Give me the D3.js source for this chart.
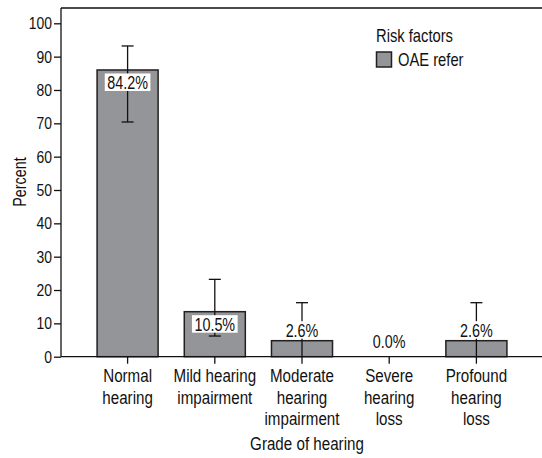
<!DOCTYPE html>
<html>
<head>
<meta charset="utf-8">
<script src="https://cdn.jsdelivr.net/npm/d3@7"></script>
<style>
  body { margin: 0; background: #fff; }
  svg { display: block; font-family: "Liberation Sans", Arial, sans-serif; }
  .axis text { font-size: 17px; fill: #111; }
  .axis path, .axis line { stroke: #111; stroke-width: 1.3; }
</style>
</head>
<body>
<svg id="chart"></svg>
<script>
const width = 542, height = 458;

// data
const categories = ['Normal hearing', 'Mild hearing impairment', 'Moderate hearing impairment', 'Severe hearing loss', 'Profound hearing loss'];
const tickLines = [['Normal', 'hearing'], ['Mild hearing', 'impairment'], ['Moderate', 'hearing', 'impairment'], ['Severe', 'hearing', 'loss'], ['Profound', 'hearing', 'loss']];
const barValues = [86, 13.5, 4.8, 0, 4.8];
const errHigh = [93.2, 23.2, 16.2, null, 16.2];
const errLow = [70.4, 6.2, 0, null, 0];
const valueLabels = ['84.2%', '10.5%', '2.6%', '0.0%', '2.6%'];
const yTicks = [0, 10, 20, 30, 40, 50, 60, 70, 80, 90, 100];

// horizontal squeeze so Liberation Sans reads like a condensed face
const squeeze = 0.82;
function narrow(sel) {
  sel.attr('transform', function() {
    const px = +this.getAttribute('x') || 0;
    const py = +this.getAttribute('y') || 0;
    return `translate(${px},${py}) scale(${squeeze},1) translate(${-px},${-py})`;
  });
}

const svg = d3.select('#chart')
  .attr('width', width)
  .attr('height', height);

const x = d3.scaleBand()
  .domain(categories)
  .range([84, 520])
  .paddingInner(0.3)
  .paddingOuter(0.15);

const y = d3.scaleLinear()
  .domain([0, 100])
  .range([356.7, 23.3]);

const plotLeft = 61, plotRight = 542, plotTop = 8;

// top frame line
svg.append('line')
  .attr('x1', plotLeft).attr('x2', plotRight)
  .attr('y1', plotTop).attr('y2', plotTop)
  .attr('stroke', '#111').attr('stroke-width', 1.3);

// bars
svg.selectAll('.bar')
  .data(categories)
  .enter().append('rect')
  .attr('class', 'bar')
  .attr('x', d => x(d))
  .attr('width', x.bandwidth())
  .attr('y', (d, i) => y(barValues[i]))
  .attr('height', (d, i) => y(0) - y(barValues[i]))
  .attr('fill', '#939598')
  .attr('stroke', '#231f20')
  .attr('stroke-width', 1.5);

// error bars
const cap = 6;
categories.forEach((c, i) => {
  if (errHigh[i] == null) return;
  const cx = x(c) + x.bandwidth() / 2;
  const g = svg.append('g').attr('stroke', '#111').attr('stroke-width', 1.3);
  g.append('line').attr('x1', cx).attr('x2', cx).attr('y1', y(errHigh[i])).attr('y2', y(errLow[i]));
  g.append('line').attr('x1', cx - cap).attr('x2', cx + cap).attr('y1', y(errHigh[i])).attr('y2', y(errHigh[i]));
  if (errLow[i] > 0) {
    g.append('line').attr('x1', cx - cap).attr('x2', cx + cap).attr('y1', y(errLow[i])).attr('y2', y(errLow[i]));
  }
});

// value labels with white boxes
categories.forEach((c, i) => {
  const cx = x(c) + x.bandwidth() / 2;
  const v = barValues[i];
  const base = v > 10 ? y(v) + 19 : Math.min(y(v), y(1.5)) - 4;
  const t = svg.append('text')
    .attr('x', cx)
    .attr('y', base)
    .attr('text-anchor', 'middle')
    .style('font-size', '17.5px')
    .attr('fill', '#111')
    .text(valueLabels[i]);
  const w = t.node().getBBox().width * squeeze;
  narrow(t);
  svg.insert('rect', () => t.node())
    .attr('x', cx - w / 2 - 2.5)
    .attr('y', base - 15.5)
    .attr('width', w + 5)
    .attr('height', 17.5)
    .attr('fill', '#fff');
});

// y axis
svg.append('g')
  .attr('class', 'axis')
  .attr('transform', `translate(${plotLeft},0)`)
  .call(d3.axisLeft(y).tickValues(yTicks).tickSize(7).tickPadding(2).tickSizeOuter(0))
  .call(g => g.select('.domain').remove())
  .call(g => g.append('line').attr('x1', 0).attr('x2', 0).attr('y1', plotTop).attr('y2', y(0)).attr('stroke', '#111').attr('stroke-width', 1.3))
  .call(g => g.selectAll('.tick text').attr('fill', '#111').call(narrow));

// x axis
const xAxis = svg.append('g')
  .attr('class', 'axis')
  .attr('transform', `translate(0,${y(0)})`)
  .call(d3.axisBottom(x).tickSize(7).tickSizeOuter(0).tickFormat(''))
  .call(g => g.select('.domain').remove())
  .call(g => g.append('line').attr('x1', plotLeft).attr('x2', plotRight).attr('y1', 0).attr('y2', 0).attr('stroke', '#111').attr('stroke-width', 1.3));

xAxis.selectAll('.tick').each(function(d, i) {
  const t = d3.select(this).append('text')
    .attr('text-anchor', 'middle')
    .attr('y', 25.5)
    .style('font-size', '18.5px')
    .attr('fill', '#111');
  tickLines[i].forEach((line, j) => {
    t.append('tspan').attr('x', 0).attr('dy', j === 0 ? 0 : 21.5).text(line);
  });
  t.attr('transform', `scale(${squeeze},1)`);
});

// axis titles
svg.append('text')
  .attr('x', 307)
  .attr('y', 450)
  .attr('text-anchor', 'middle')
  .style('font-size', '18.5px')
  .attr('fill', '#111')
  .text('Grade of hearing')
  .call(narrow);

svg.append('text')
  .attr('transform', `translate(26,182) rotate(-90) scale(${squeeze},1)`)
  .attr('text-anchor', 'middle')
  .style('font-size', '17.5px')
  .attr('fill', '#111')
  .text('Percent');

// legend
svg.append('text')
  .attr('x', 376).attr('y', 42)
  .style('font-size', '18px')
  .attr('fill', '#111')
  .text('Risk factors')
  .call(narrow);

svg.append('rect')
  .attr('x', 376.5).attr('y', 52)
  .attr('width', 15).attr('height', 15)
  .attr('fill', '#939598')
  .attr('stroke', '#231f20')
  .attr('stroke-width', 1.5);

svg.append('text')
  .attr('x', 398).attr('y', 66)
  .style('font-size', '18px')
  .attr('fill', '#111')
  .text('OAE refer')
  .call(narrow);
</script>
</body>
</html>
